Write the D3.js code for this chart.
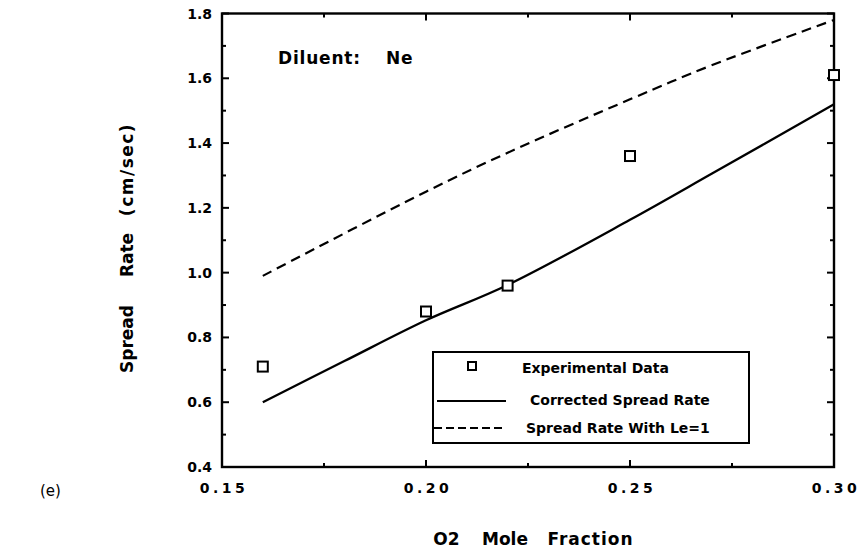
<!DOCTYPE html>
<html><head><meta charset="utf-8">
<script src="https://cdn.jsdelivr.net/npm/d3@7"></script>
<style>body{margin:0;background:#fff}svg{display:block}text{font-family:"DejaVu Sans",Arial,Helvetica,sans-serif}</style>
</head><body>
<svg id="c" width="862" height="553"></svg>
<script>
const expX = [0.16, 0.20, 0.22, 0.25, 0.30];
const expY = [0.71, 0.88, 0.96, 1.36, 1.61];
const corrX = [0.16, 0.18, 0.20, 0.22, 0.25, 0.27, 0.30];
const corrY = [0.60, 0.727, 0.853, 0.962, 1.163, 1.305, 1.52];
const leX = [0.16, 0.20, 0.22, 0.25, 0.27, 0.30];
const leY = [0.99, 1.25, 1.37, 1.535, 1.64, 1.78];
const xTicks = [0.15, 0.20, 0.25, 0.30];
const yTicks = [0.4, 0.6, 0.8, 1.0, 1.2, 1.4, 1.6, 1.8];
const legendLabels = ["Experimental Data", "Corrected Spread Rate", "Spread Rate With Le=1"];
const yTitleWords = ["Spread", "Rate", "(cm/sec)"];
const xTitleWords = ["O2", "Mole", "Fraction"];

const svg = d3.select("#c");
const L = 222, R = 834, T = 13.5, B = 467;
const x = d3.scaleLinear().domain([0.15, 0.30]).range([L, R]);
const y = d3.scaleLinear().domain([0.4, 1.8]).range([B, T]);

const g = svg.append("g");
const xMinor = d3.range(0, 7).map(i => 0.15 + i * 0.025);
const yMinor = d3.range(0, 15).map(i => 0.4 + i * 0.1);
xMinor.forEach((v, i) => {
  const len = i % 2 === 0 ? 7 : 4;
  g.append("line").attr("x1", x(v)).attr("x2", x(v)).attr("y1", B).attr("y2", B - len).attr("stroke", "#000").attr("stroke-width", 2);
  g.append("line").attr("x1", x(v)).attr("x2", x(v)).attr("y1", T).attr("y2", T + len).attr("stroke", "#000").attr("stroke-width", 2);
});
yMinor.forEach((v, i) => {
  const len = i % 2 === 0 ? 7 : 4;
  g.append("line").attr("x1", L).attr("x2", L + len).attr("y1", y(v)).attr("y2", y(v)).attr("stroke", "#000").attr("stroke-width", 2);
  g.append("line").attr("x1", R).attr("x2", R - len).attr("y1", y(v)).attr("y2", y(v)).attr("stroke", "#000").attr("stroke-width", 2);
});
g.append("rect").attr("x", L).attr("y", T).attr("width", R - L).attr("height", B - T)
  .attr("fill", "none").attr("stroke", "#000").attr("stroke-width", 2.4);

// tick labels
xTicks.forEach(v => {
  g.append("text").attr("x", x(v) + 2).attr("y", 493).attr("text-anchor", "middle")
    .attr("font-size", 14).attr("font-weight", "bold").attr("letter-spacing", "3.5px").text(v.toFixed(2));
});
yTicks.forEach(v => {
  g.append("text").attr("x", 212).attr("y", y(v) + 5).attr("text-anchor", "end")
    .attr("font-size", 14).attr("font-weight", "bold").text(v.toFixed(1));
});

// lines
const line = d3.line().x(d => x(d[0])).y(d => y(d[1])).curve(d3.curveCatmullRom);
g.append("path").datum(corrX.map((v, i) => [v, corrY[i]])).attr("d", line)
  .attr("fill", "none").attr("stroke", "#000").attr("stroke-width", 2.3);
g.append("path").datum(leX.map((v, i) => [v, leY[i]])).attr("d", line)
  .attr("fill", "none").attr("stroke", "#000").attr("stroke-width", 2.2).attr("stroke-dasharray", "10,6");

// points
expX.forEach((v, i) => {
  g.append("rect").attr("x", x(v) - 5).attr("y", y(expY[i]) - 5).attr("width", 10).attr("height", 10)
    .attr("fill", "#fff").attr("stroke", "#000").attr("stroke-width", 2);
});

// legend
const lg = g.append("g");
lg.append("rect").attr("x", 433).attr("y", 352).attr("width", 316).attr("height", 91)
  .attr("fill", "#fff").attr("stroke", "#000").attr("stroke-width", 2);
lg.append("rect").attr("x", 468).attr("y", 362).attr("width", 8).attr("height", 8)
  .attr("fill", "#fff").attr("stroke", "#000").attr("stroke-width", 2);
lg.append("line").attr("x1", 437).attr("x2", 506).attr("y1", 401).attr("y2", 401).attr("stroke", "#000").attr("stroke-width", 2);
lg.append("line").attr("x1", 434).attr("x2", 506).attr("y1", 428).attr("y2", 428).attr("stroke", "#000").attr("stroke-width", 1.8).attr("stroke-dasharray", "8,4");
const lx = [522, 530, 526], ly = [373, 405, 433];
legendLabels.forEach((t, i) => {
  lg.append("text").attr("x", lx[i]).attr("y", ly[i]).attr("font-size", 14).attr("font-weight", "bold").text(t);
});

// annotations
svg.append("text").attr("x", 278).attr("y", 64).attr("font-size", 17).attr("font-weight", "bold")
  .attr("letter-spacing", "0.8px").text("Diluent:");
svg.append("text").attr("x", 386).attr("y", 64).attr("font-size", 17).attr("font-weight", "bold")
  .attr("letter-spacing", "0.8px").text("Ne");
svg.append("text").attr("x", 40).attr("y", 496).attr("font-size", 15).text("(e)");

const xtc = [446.5, 505, 590.5];
xTitleWords.forEach((w, i) => {
  svg.append("text").attr("x", xtc[i]).attr("y", 545).attr("text-anchor", "middle").attr("font-size", 17)
    .attr("font-weight", "bold").attr("letter-spacing", i === 2 ? "1px" : "0px").text(w);
});
const ytc = [339, 255, 169.5];
yTitleWords.forEach((w, i) => {
  svg.append("text").attr("transform", `translate(133,${ytc[i]}) rotate(-90)`).attr("text-anchor", "middle")
    .attr("font-size", 17).attr("font-weight", "bold").attr("letter-spacing", i === 2 ? "1.5px" : "0px").text(w);
});
</script>
</body></html>
